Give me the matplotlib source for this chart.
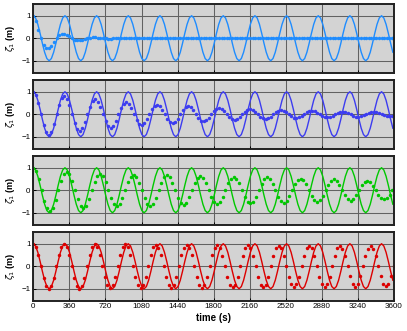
import numpy as np
import matplotlib
matplotlib.use('Agg')
import matplotlib.pyplot as plt

## reference wave (solid), sampled every 22.57 s
dt_ref = 22.57
zeta_ref = [
    1.00, 0.90, 0.62, 0.22, -0.22, -0.62, -0.90, -1.00, -0.90, -0.62, -0.22, 0.22, 0.62, 0.90,
    1.00, 0.90, 0.62, 0.22, -0.22, -0.62, -0.90, -1.00, -0.90, -0.62, -0.22, 0.22, 0.62, 0.90,
    1.00, 0.90, 0.62, 0.22, -0.22, -0.62, -0.90, -1.00, -0.90, -0.62, -0.22, 0.22, 0.62, 0.90,
    1.00, 0.90, 0.62, 0.22, -0.22, -0.62, -0.90, -1.00, -0.90, -0.62, -0.22, 0.22, 0.62, 0.90,
    1.00, 0.90, 0.62, 0.22, -0.22, -0.62, -0.90, -1.00, -0.90, -0.62, -0.22, 0.22, 0.62, 0.90,
    1.00, 0.90, 0.62, 0.22, -0.22, -0.62, -0.90, -1.00, -0.90, -0.62, -0.22, 0.22, 0.62, 0.90,
    1.00, 0.90, 0.62, 0.22, -0.22, -0.62, -0.90, -1.00, -0.90, -0.62, -0.22, 0.22, 0.62, 0.90,
    1.00, 0.90, 0.62, 0.22, -0.22, -0.62, -0.90, -1.00, -0.90, -0.62, -0.22, 0.22, 0.62, 0.90,
    1.00, 0.90, 0.62, 0.22, -0.22, -0.62, -0.90, -1.00, -0.90, -0.62, -0.22, 0.22, 0.62, 0.90,
    1.00, 0.90, 0.62, 0.22, -0.22, -0.62, -0.90, -1.00, -0.90, -0.62, -0.22, 0.22, 0.62, 0.90,
    1.00, 0.90, 0.62, 0.22, -0.22, -0.62, -0.90, -1.00, -0.90, -0.62, -0.22, 0.22, 0.62, 0.90,
    1.00, 0.90, 0.62, 0.22, -0.22, -0.62,
]

## panel 1 (dotted), every 25.75 s
dt_1 = 25.75
zeta_1 = [
    1.00, 0.76, 0.38, 0.00, -0.29, -0.45, -0.45, -0.34, -0.17, 0.00, 0.13, 0.20,
    0.20, 0.15, 0.08, 0.00, -0.06, -0.09, -0.09, -0.07, -0.04, 0.00, 0.03, 0.04,
    0.04, 0.03, 0.02, 0.00, -0.01, -0.02, -0.02, -0.01, -0.01, 0.00, 0.00, 0.00,
    0.00, 0.00, 0.00, 0.00, 0.00, 0.00, 0.00, 0.00, 0.00, 0.00, 0.00, 0.00,
    0.00, 0.00, 0.00, 0.00, 0.00, 0.00, 0.00, 0.00, 0.00, 0.00, 0.00, 0.00,
    0.00, 0.00, 0.00, 0.00, 0.00, 0.00, 0.00, 0.00, 0.00, 0.00, 0.00, 0.00,
    0.00, 0.00, 0.00, 0.00, 0.00, 0.00, 0.00, 0.00, 0.00, 0.00, 0.00, 0.00,
    0.00, 0.00, 0.00, 0.00, 0.00, 0.00, 0.00, 0.00, 0.00, 0.00, 0.00, 0.00,
    0.00, 0.00, 0.00, 0.00, 0.00, 0.00, 0.00, 0.00, 0.00, 0.00, 0.00, 0.00,
    0.00, 0.00, 0.00, 0.00, 0.00, 0.00, 0.00, 0.00, 0.00, 0.00, 0.00, 0.00,
    0.00, 0.00, 0.00, 0.00, 0.00, 0.00, 0.00, 0.00, 0.00, 0.00, 0.00, 0.00,
    0.00, 0.00, 0.00, 0.00, 0.00, 0.00, 0.00, 0.00,
]

## panel 2 (dotted), every 25.75 s
dt_2 = 25.75
zeta_2 = [
    1.00, 0.85, 0.48, 0.00, -0.47, -0.79, -0.90, -0.77, -0.43, 0.00, 0.42, 0.71,
    0.81, 0.69, 0.39, 0.00, -0.38, -0.64, -0.73, -0.62, -0.35, 0.00, 0.34, 0.58,
    0.66, 0.56, 0.32, 0.00, -0.31, -0.52, -0.59, -0.50, -0.29, 0.00, 0.28, 0.47,
    0.53, 0.45, 0.26, 0.00, -0.25, -0.42, -0.48, -0.41, -0.23, 0.00, 0.22, 0.38,
    0.43, 0.37, 0.21, 0.00, -0.20, -0.34, -0.39, -0.33, -0.19, 0.00, 0.18, 0.31,
    0.35, 0.30, 0.17, 0.00, -0.16, -0.28, -0.31, -0.27, -0.15, 0.00, 0.15, 0.25,
    0.28, 0.24, 0.14, 0.00, -0.13, -0.22, -0.26, -0.22, -0.12, 0.00, 0.12, 0.20,
    0.23, 0.20, 0.11, 0.00, -0.11, -0.18, -0.21, -0.18, -0.10, 0.00, 0.10, 0.16,
    0.19, 0.16, 0.09, 0.00, -0.09, -0.15, -0.17, -0.14, -0.08, 0.00, 0.08, 0.13,
    0.15, 0.13, 0.07, 0.00, -0.07, -0.12, -0.14, -0.12, -0.07, 0.00, 0.06, 0.11,
    0.12, 0.10, 0.06, 0.00, -0.06, -0.10, -0.11, -0.09, -0.05, 0.00, 0.05, 0.09,
    0.10, 0.08, 0.05, 0.00, -0.05, -0.08, -0.09, -0.08,
]

## panel 3 (dotted), every 27.78 s
dt_3 = 27.78
zeta_3 = [
    1.00, 0.85, 0.48, 0.00, -0.47, -0.79, -0.90, -0.77, -0.44, 0.00, 0.43, 0.73,
    0.83, 0.71, 0.41, 0.00, -0.40, -0.69, -0.79, -0.68, -0.39, 0.00, 0.38, 0.65,
    0.74, 0.64, 0.37, 0.00, -0.36, -0.62, -0.71, -0.61, -0.35, 0.00, 0.35, 0.60,
    0.69, 0.60, 0.34, 0.00, -0.34, -0.59, -0.68, -0.59, -0.34, 0.00, 0.34, 0.58,
    0.67, 0.58, 0.33, 0.00, -0.33, -0.57, -0.65, -0.56, -0.32, 0.00, 0.32, 0.55,
    0.63, 0.54, 0.31, 0.00, -0.31, -0.53, -0.61, -0.53, -0.30, 0.00, 0.30, 0.52,
    0.60, 0.52, 0.30, 0.00, -0.29, -0.51, -0.58, -0.50, -0.29, 0.00, 0.29, 0.50,
    0.57, 0.49, 0.28, 0.00, -0.28, -0.48, -0.55, -0.47, -0.27, 0.00, 0.27, 0.45,
    0.52, 0.45, 0.26, 0.00, -0.25, -0.44, -0.50, -0.43, -0.25, 0.00, 0.24, 0.42,
    0.48, 0.41, 0.24, 0.00, -0.23, -0.40, -0.46, -0.39, -0.23, 0.00, 0.22, 0.38,
    0.43, 0.37, 0.21, 0.00, -0.21, -0.35, -0.40, -0.34, -0.20, 0.00,
]

## panel 4 (dotted), every 25.5 s
dt_4 = 25.5
zeta_4 = [
    1.00, 0.87, 0.50, 0.00, -0.50, -0.87, -1.00, -0.87, -0.50, 0.00, 0.50, 0.87,
    0.99, 0.86, 0.50, 0.00, -0.50, -0.86, -0.99, -0.86, -0.50, 0.00, 0.50, 0.86,
    0.98, 0.85, 0.49, 0.00, -0.49, -0.85, -0.98, -0.85, -0.49, 0.00, 0.49, 0.85,
    0.97, 0.84, 0.49, 0.00, -0.49, -0.84, -0.97, -0.84, -0.49, 0.00, 0.49, 0.84,
    0.96, 0.83, 0.48, 0.00, -0.48, -0.83, -0.96, -0.83, -0.48, 0.00, 0.48, 0.83,
    0.95, 0.82, 0.48, 0.00, -0.48, -0.82, -0.95, -0.82, -0.48, 0.00, 0.48, 0.82,
    0.94, 0.81, 0.47, 0.00, -0.47, -0.81, -0.94, -0.81, -0.47, 0.00, 0.47, 0.81,
    0.93, 0.81, 0.47, 0.00, -0.47, -0.81, -0.93, -0.81, -0.47, 0.00, 0.47, 0.81,
    0.92, 0.80, 0.46, 0.00, -0.46, -0.80, -0.92, -0.80, -0.46, 0.00, 0.46, 0.80,
    0.91, 0.79, 0.46, 0.00, -0.46, -0.79, -0.91, -0.79, -0.46, 0.00, 0.46, 0.79,
    0.90, 0.78, 0.45, 0.00, -0.45, -0.78, -0.90, -0.78, -0.45, 0.00, 0.45, 0.78,
    0.89, 0.78, 0.45, 0.00, -0.45, -0.78, -0.89, -0.78, -0.45, 0.00,
]

xticks = [0, 360, 720, 1080, 1440, 1800, 2160, 2520, 2880, 3240, 3600]
yticks = [-1, 0, 1]

panels = [(dt_1, zeta_1, '#1e8cff'),
          (dt_2, zeta_2, '#3c3cf0'),
          (dt_3, zeta_3, '#00c800'),
          (dt_4, zeta_4, '#dc0000')]

plt.rcParams['font.family'] = ['Liberation Sans', 'DejaVu Sans']

fig = plt.figure(figsize=(4.07, 3.31), dpi=100, facecolor='w')

t_ref = np.arange(len(zeta_ref)) * dt_ref

left = 33.3 / 407.
width = (394. - 33.3) / 407.
tops = [4., 80., 156., 232.]
height_px = 68.5

for i, (dt, zz, col) in enumerate(panels):
    bot = 1. - (tops[i] + height_px) / 331.
    ax = fig.add_axes([left, bot, width, height_px / 331.])
    ax.set_facecolor('#d3d3d3')
    ax.set_axisbelow(True)
    ax.grid(True, color='#626262', linewidth=0.75)

    tt = np.arange(len(zz)) * dt
    ax.plot(t_ref, zeta_ref, '-', color=col, lw=1.0)
    ax.plot(tt, zz, 'o', color=col, ms=2.5, mew=0)

    ax.set_xlim(0, 3600)
    ax.set_ylim(-1.52, 1.52)
    ax.set_xticks(xticks)
    ax.set_yticks(yticks)
    ax.tick_params(axis='both', which='major', direction='in', length=2.5,
                   width=0.7, labelsize=5.8, pad=2)
    if i < 3:
        ax.set_xticklabels([])
    for sp in ax.spines.values():
        sp.set_linewidth(1.4)
        sp.set_color('#222222')
    ax.set_ylabel(r'$\zeta_1$ (m)', fontsize=6.5, fontweight='bold', labelpad=3)

fig.text(0.524, 0.04, 'time (s)', fontsize=7, fontweight='bold', ha='center', va='center')

plt.savefig('out.png', dpi=100)
